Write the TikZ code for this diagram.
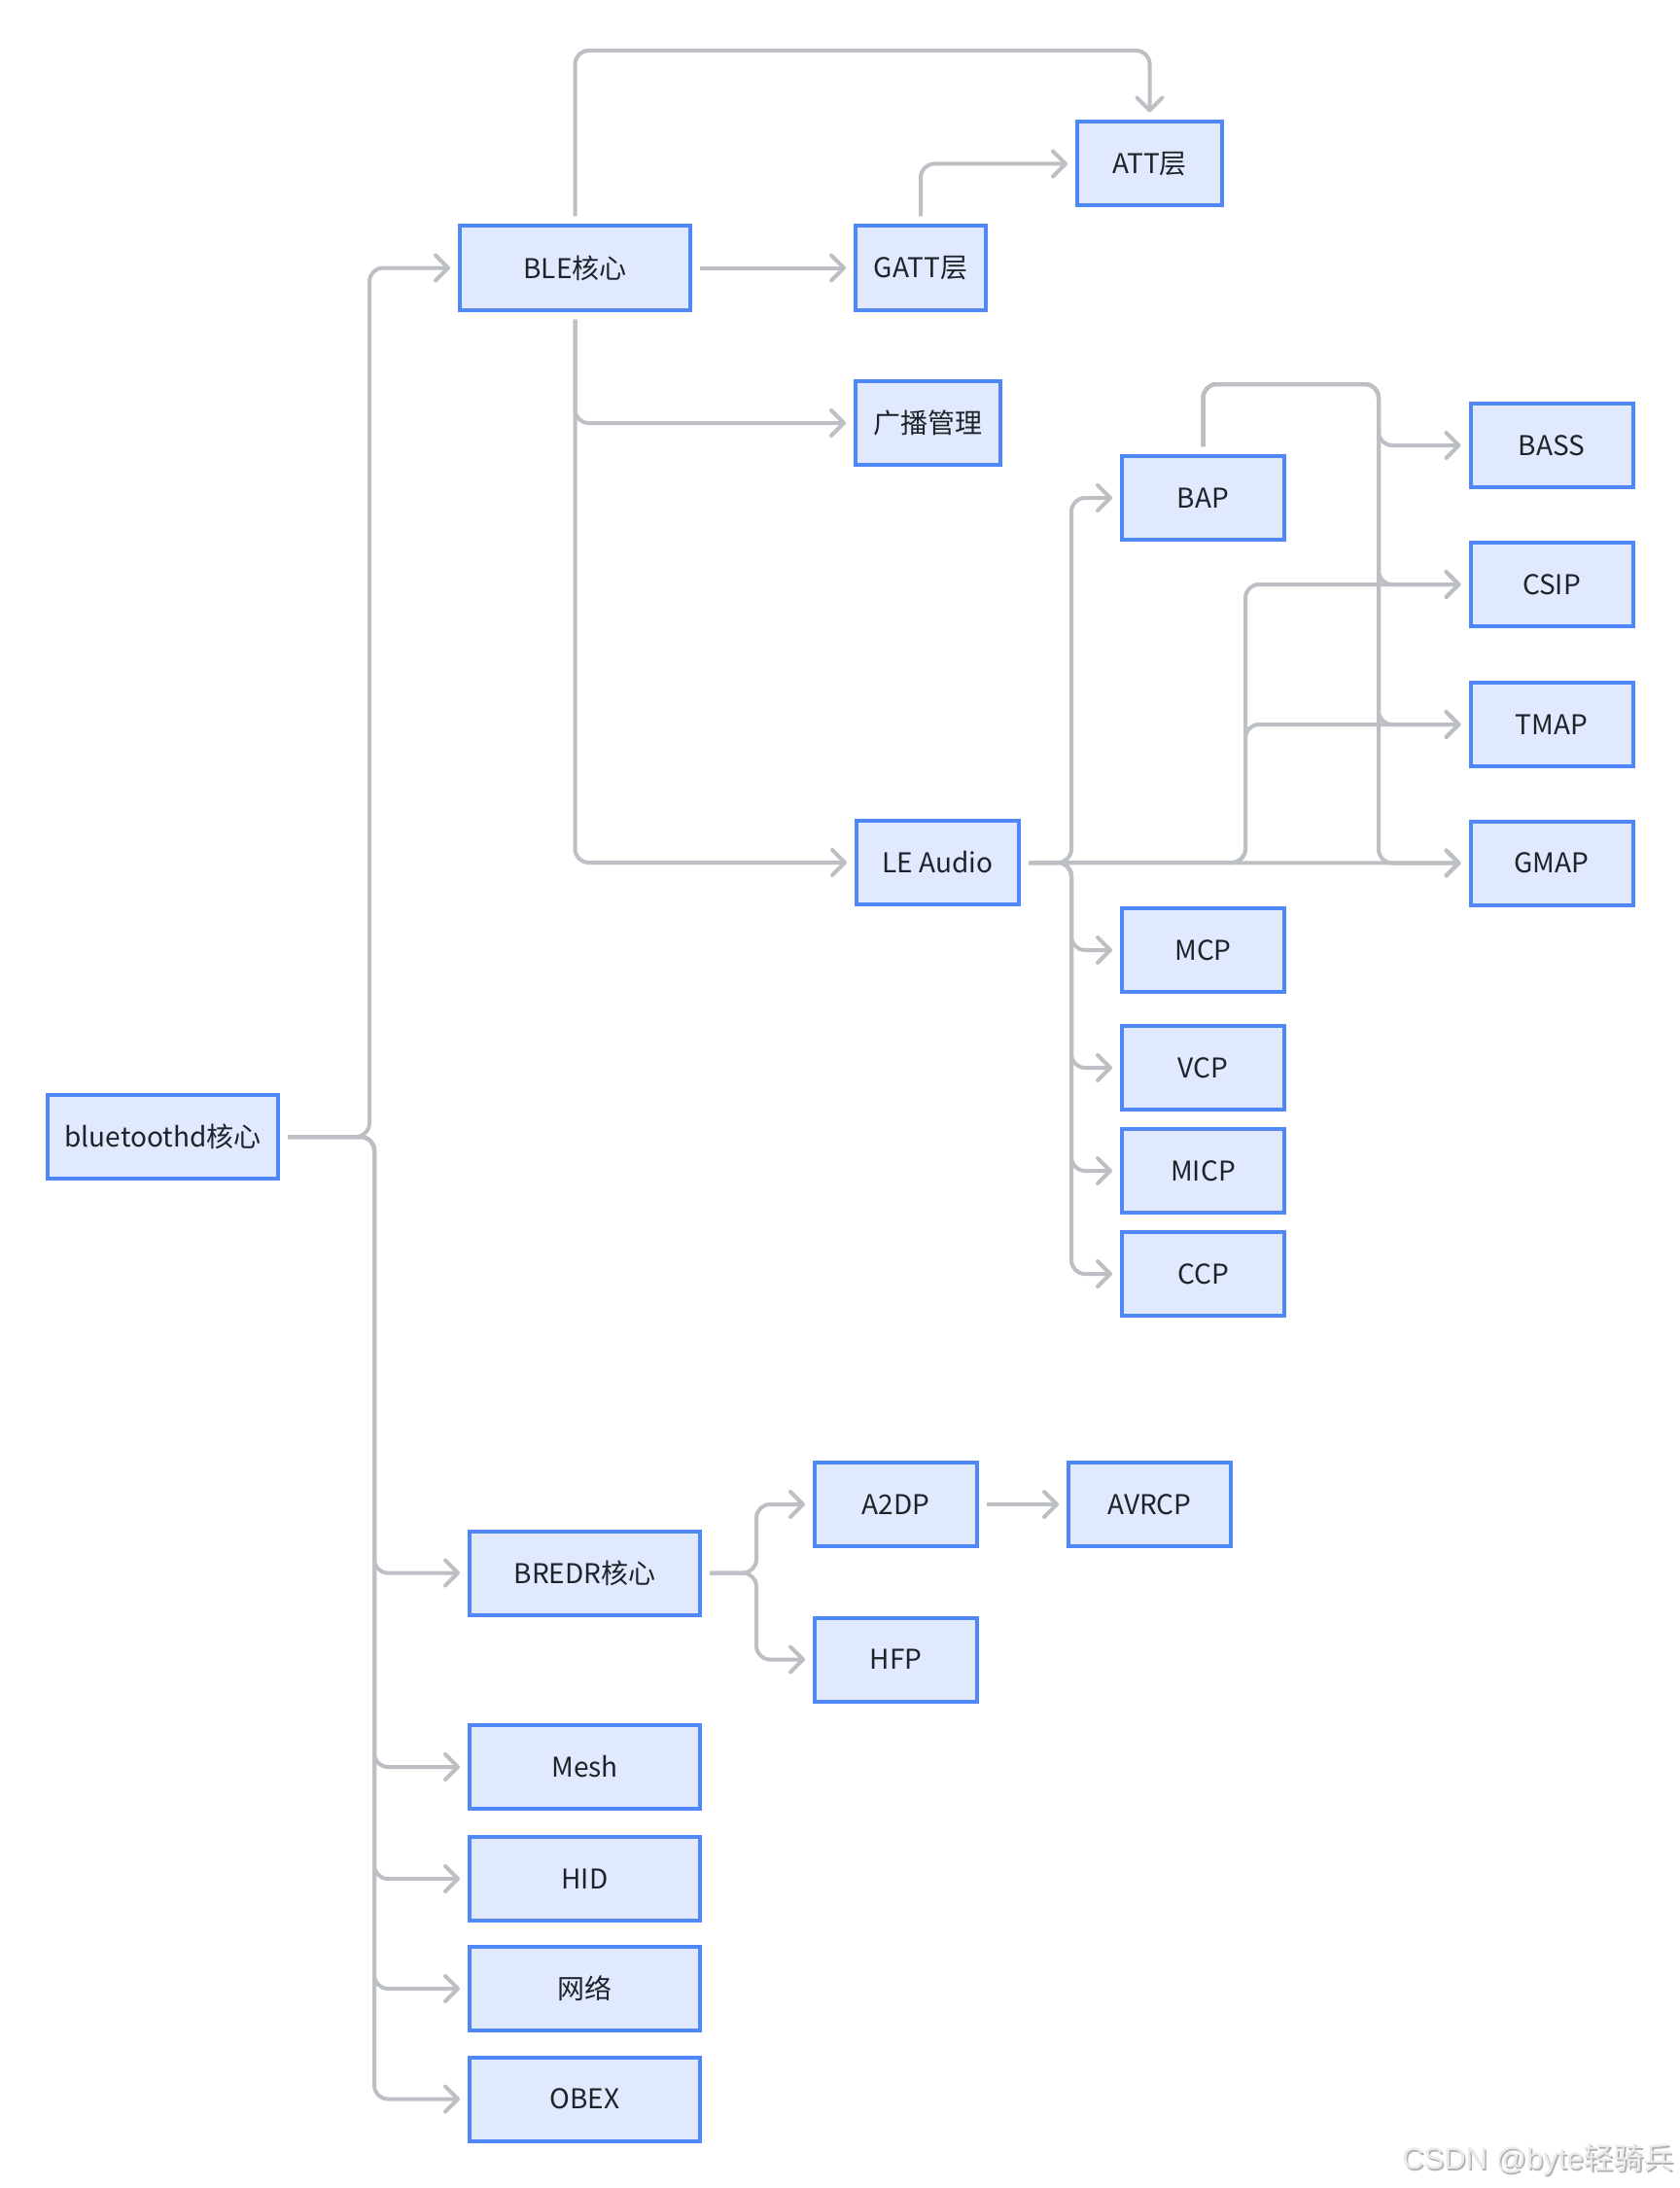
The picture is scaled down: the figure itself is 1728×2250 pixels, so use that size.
\documentclass[tikz,border=0pt]{standalone}
\usepackage{fontspec}
\setmainfont{Noto Sans CJK SC}
\newfontfamily\wmlatin{Liberation Sans}
\newfontfamily\wmcjk{Noto Sans CJK SC}
\usetikzlibrary{arrows.meta,calc}
\definecolor{boxfill}{HTML}{E0E9FD}
\definecolor{boxline}{HTML}{5087F6}
\definecolor{conncol}{HTML}{BCBFC4}
\definecolor{txtcol}{HTML}{1F2329}
\begin{document}
\begin{tikzpicture}[x=1pt,y=-1pt,
  box/.style={draw=boxline, fill=boxfill, line width=4pt, minimum height=86pt, inner sep=0pt,
    text=txtcol, font=\fontsize{28}{32}\selectfont},
  wide/.style={box, minimum width=237pt},
  mid/.style={box, minimum width=167pt},
  link/.style={draw=conncol, line width=4pt, rounded corners=14pt,
    -{Straight Barb[length=13pt,width=26pt,round]}},
]
\useasboundingbox[fill=white] (0,0) rectangle (1728,2250);

% nodes
\node[wide] (bt) at (167.5,1169) {bluetoothd核心};
\node[wide] (ble) at (591.5,275.5) {BLE核心};
\node[box, minimum width=134pt] (gatt) at (947,275.5) {GATT层};
\node[box, minimum width=149pt] (att) at (1182.5,168.5) {ATT层};
\node[box, minimum width=149pt] (adv) at (954.5,435) {广播管理};
\node[mid] (le) at (964.5,887) {LE Audio};
\node[mid] (bap) at (1237.5,512) {BAP};
\node[mid] (bass) at (1596,458) {BASS};
\node[mid] (csip) at (1596,601) {CSIP};
\node[mid] (tmap) at (1596,745) {TMAP};
\node[mid] (gmap) at (1596,887.5) {GMAP};
\node[mid] (mcp) at (1237.5,977) {MCP};
\node[mid] (vcp) at (1237.5,1098) {VCP};
\node[mid] (micp) at (1237.5,1204) {MICP};
\node[mid] (ccp) at (1237.5,1310) {CCP};
\node[wide] (bredr) at (601.5,1617.5) {BREDR核心};
\node[mid] (a2dp) at (921.5,1547) {A2DP};
\node[mid] (avrcp) at (1182.5,1547) {AVRCP};
\node[mid] (hfp) at (921.5,1706.5) {HFP};
\node[wide] (mesh) at (601.5,1817) {Mesh};
\node[wide] (hid) at (601.5,1932) {HID};
\node[wide] (net) at (601.5,2045) {网络};
\node[wide] (obex) at (601.5,2158.5) {OBEX};

% routing coordinates
\coordinate (tup) at (380,0);
\coordinate (tdn) at (385,0);
\coordinate (topy) at (0,52);
\coordinate (lx) at (1102,0);
\coordinate (cx) at (1281,0);
\coordinate (by) at (0,395);
\coordinate (bx) at (1418,0);
\coordinate (rx) at (778,0);

% bluetoothd core
\draw[link] ([xshift=8pt]bt.east) -- (bt.east -| tup) |- ([xshift=-8pt]ble.west);
\foreach \t in {bredr,mesh,hid,net,obex}
  \draw[link] ([xshift=8pt]bt.east) -- (bt.east -| tdn) |- ([xshift=-8pt]\t.west);

% BLE
\draw[link] ([xshift=8pt]ble.east) -- ([xshift=-8pt]gatt.west);
\draw[link] ([yshift=8pt]ble.north) -- (ble.north |- topy) -| ([yshift=8pt]att.north);
\draw[link] ([yshift=8pt]gatt.north) |- ([xshift=-8pt]att.west);
\draw[link] ([yshift=-8pt]ble.south) |- ([xshift=-8pt]adv.west);
\draw[link] ([yshift=-8pt]ble.south) |- ([xshift=-8pt]le.west);

% LE Audio
\foreach \t in {bap,mcp,vcp,micp,ccp}
  \draw[link] ([xshift=8pt]le.east) -- (le.east -| lx) |- ([xshift=-8pt]\t.west);
\foreach \t in {csip,tmap}
  \draw[link] ([xshift=8pt]le.east) -- (le.east -| cx) |- ([xshift=-8pt]\t.west);
\draw[link] ([xshift=8pt]le.east) -- ([xshift=-8pt]gmap.west);

% BAP
\foreach \t in {bass,csip,tmap,gmap}
  \draw[link] ([yshift=8pt]bap.north) -- (bap.north |- by) -- (bx |- by) |- ([xshift=-8pt]\t.west);

% BREDR
\foreach \t in {a2dp,hfp}
  \draw[link] ([xshift=8pt]bredr.east) -- (bredr.east -| rx) |- ([xshift=-8pt]\t.west);
\draw[link] ([xshift=8pt]a2dp.east) -- ([xshift=-8pt]avrcp.west);

% watermark
\node[anchor=east, text=black!30, inner sep=0pt, font=\fontsize{31}{34}\selectfont] (wmshadow) at (1723.5,2222.5) {\wmlatin CSDN @byte\wmcjk 轻骑兵};
\node[anchor=east, text=black!8, inner sep=0pt, font=\fontsize{31}{34}\selectfont] (wm) at (1722,2221) {\wmlatin CSDN @byte\wmcjk 轻骑兵};
\end{tikzpicture}
\end{document}
